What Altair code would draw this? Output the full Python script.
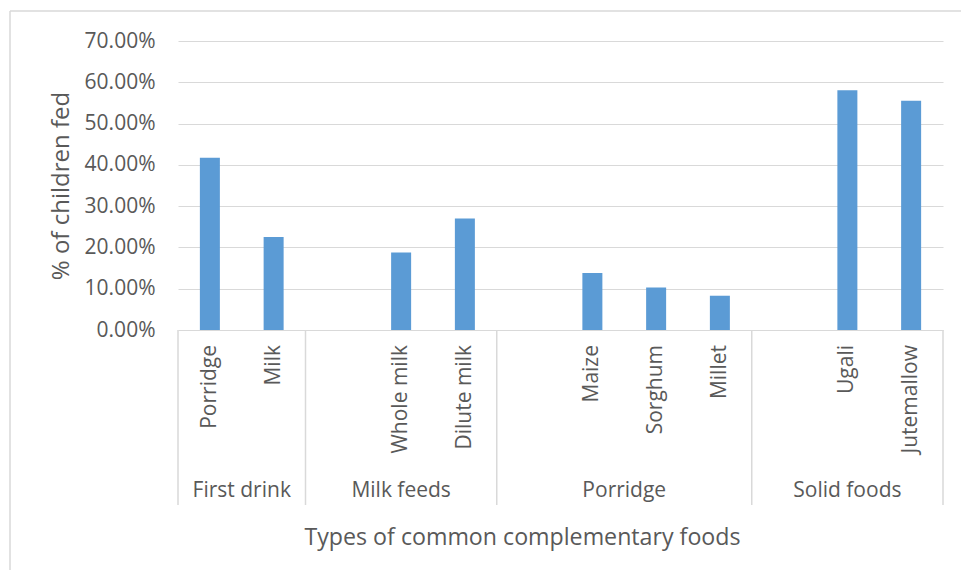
import altair as alt
import pandas as pd

# Food items, in axis order; an empty name is a spacer slot inside a group
items = ["Porridge", "Milk", "", "Whole milk", "Dilute milk", "", "Maize",
         "Sorghum", "Millet", "", "Ugali", "Jutemallow"]
item_groups = ["First drink", "First drink", "Milk feeds", "Milk feeds",
               "Milk feeds", "Porridge", "Porridge", "Porridge", "Porridge",
               "Solid foods", "Solid foods", "Solid foods"]
shares = [0.417, 0.225, None, 0.188, 0.270, None, 0.138, 0.103, 0.083,
          None, 0.581, 0.555]
groups = ["First drink", "Milk feeds", "Porridge", "Solid foods"]
y_ticks = [0, 0.1, 0.2, 0.3, 0.4, 0.5, 0.6, 0.7]

FONT = "Open Sans"
TEXT = "#595959"
GRID = "#D9D9D9"
BAR = "#5B9BD5"
W, H = 765, 289

slots = pd.DataFrame({
    "item": items,
    "group": item_groups,
    "share": shares,
})
slots["center"] = slots.index + 0.5
bars_df = slots.dropna(subset=["share"])

# Group extents along the slot axis
spans = []
for g in groups:
    idx = slots.index[slots["group"] == g]
    spans.append({"group": g, "start": idx.min(), "end": idx.max() + 1})
spans = pd.DataFrame(spans)
spans["mid"] = (spans["start"] + spans["end"]) / 2
edges = pd.DataFrame({"edge": sorted(set(spans["start"]) | set(spans["end"]))})

x_scale = alt.Scale(domain=[0, len(items)], nice=False, zero=False, padding=0)
x_axis = alt.Axis(title="Types of common complementary foods",
                  labels=False, ticks=False, domain=False, grid=False,
                  titleX=344, titleY=214, titleBaseline="alphabetic",
                  titleFont=FONT, titleFontSize=23.2,
                  titleFontWeight="normal", titleColor=TEXT)

bars = alt.Chart(bars_df).mark_bar(size=20, color=BAR).encode(
    x=alt.X("center:Q", scale=x_scale, axis=x_axis),
    y=alt.Y("share:Q",
            scale=alt.Scale(domain=[0, 0.7], nice=False),
            axis=alt.Axis(title="% of children fed", format=".2%",
                          values=y_ticks, domain=False, ticks=False,
                          gridColor=GRID, gridWidth=1.2,
                          labelPadding=23, labelFont=FONT, labelFontSize=21,
                          labelColor=TEXT, titleFont=FONT, titleFontSize=24,
                          titleFontWeight="normal", titleColor=TEXT,
                          titlePadding=11)),
)

item_labels = alt.Chart(bars_df).mark_text(
    angle=270, align="right", baseline="middle",
    font=FONT, fontSize=21, color=TEXT,
).encode(
    x=alt.X("center:Q", scale=x_scale, axis=x_axis),
    y=alt.value(H + 15),
    text="item:N",
)

dividers = alt.Chart(edges).mark_rule(color=GRID, strokeWidth=1.5).encode(
    x=alt.X("edge:Q", scale=x_scale, axis=x_axis),
    y=alt.value(H),
    y2=alt.value(H + 175),
)

group_labels = alt.Chart(spans).mark_text(
    baseline="alphabetic", align="center",
    font=FONT, fontSize=21, color=TEXT,
).encode(
    x=alt.X("mid:Q", scale=x_scale, axis=x_axis),
    y=alt.value(H + 167),
    text="group:N",
)

# Chart area frame (left and top edges)
frame_left = alt.Chart().mark_rule(color=GRID, strokeWidth=1.5).encode(
    x=alt.value(-168), y=alt.value(-30), y2=alt.value(529))
frame_top = alt.Chart().mark_rule(color=GRID, strokeWidth=1.5).encode(
    x=alt.value(-168), x2=alt.value(783), y=alt.value(-30))

chart = alt.layer(
    bars, item_labels, dividers, group_labels, frame_left, frame_top
).properties(
    width=W, height=H,
    autosize=alt.AutoSizeParams(type="none"),
    padding={"left": 178, "top": 41, "right": 18, "bottom": 240},
    background="white",
).configure_view(stroke=None)

chart.save("out.html", embed_options={"renderer": "svg", "actions": False})
